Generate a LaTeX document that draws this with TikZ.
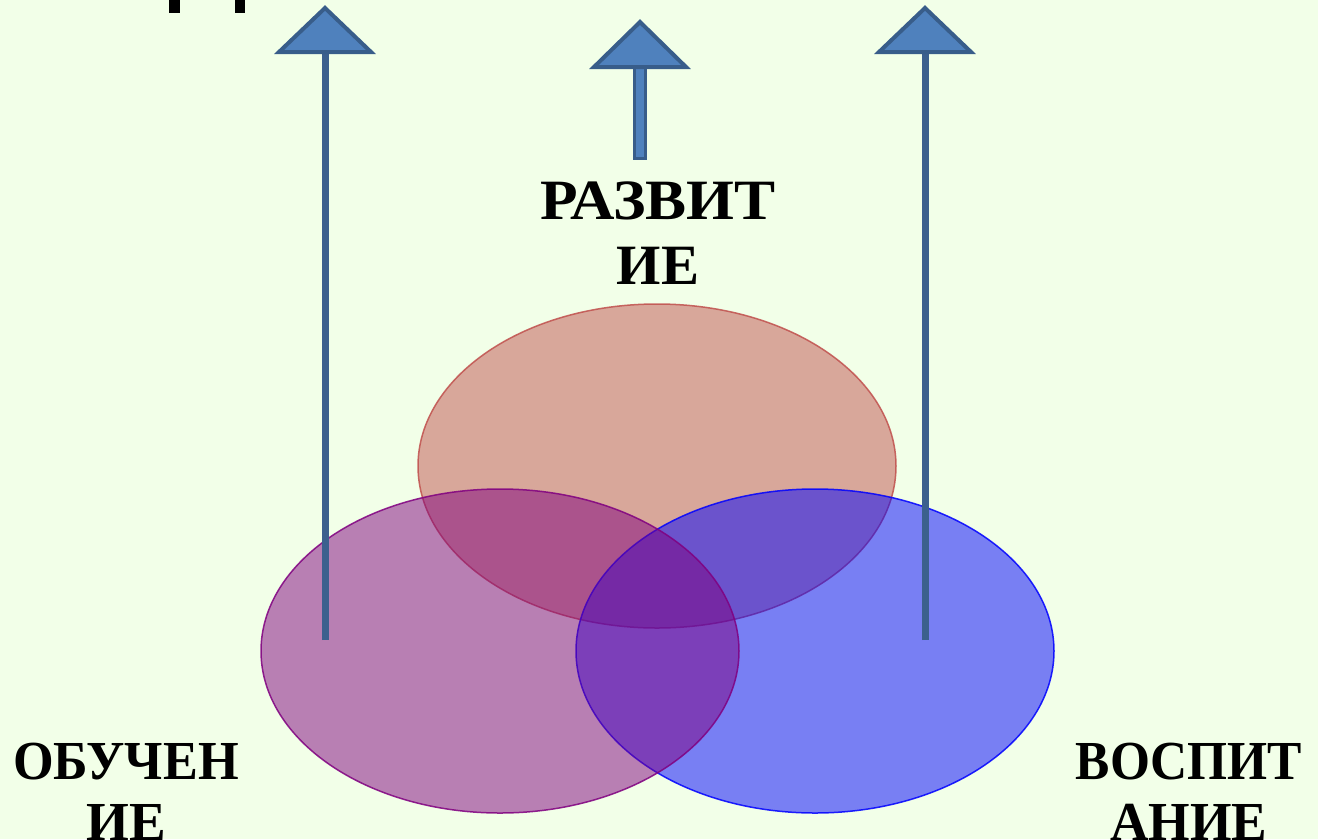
\documentclass[tikz,border=0pt]{standalone}
\usepackage{fontspec}
\setmainfont{Liberation Serif}
\usetikzlibrary{shapes.geometric}
\definecolor{bg}{RGB}{242,255,232}
\definecolor{redc}{RGB}{192,80,77}
\definecolor{purc}{RGB}{128,0,128}
\definecolor{bluc}{RGB}{0,0,255}
\definecolor{arrfill}{RGB}{79,129,189}
\definecolor{arrline}{RGB}{56,93,138}
\definecolor{shaft}{RGB}{60,96,142}
\tikzset{
  circ/.style={ellipse, minimum width=478pt, minimum height=324pt, inner sep=0pt, line width=1.5pt, fill opacity=0.5, draw opacity=0.85},
  lbl/.style={font=\bfseries, align=center, inner sep=0pt, anchor=base},
  head/.style={fill=arrfill, draw=arrline, line width=4pt, line join=miter},
  thinshaft/.style={draw=shaft, line width=7pt},
}
\begin{document}
\begin{tikzpicture}[x=1pt,y=-1pt]
\fill[bg] (0,0) rectangle (1318,839);
\useasboundingbox (0,0) rectangle (1318,839);
% cut-off marks at top left
\fill[black] (169,0) rectangle (180,13);
\fill[black] (235,0) rectangle (245,13);
% ellipses
\node[circ, fill=redc, draw=redc] (razv) at (657,466) {};
\node[circ, fill=bluc, draw=bluc] (vosp) at (815,651) {};
\node[circ, fill=purc, draw=purc] (obuch) at (500,651) {};
% arrows
\coordinate (l0) at (325,640);
\coordinate (l1) at (325,52);
\draw[thinshaft] (l0) -- (l1);
\draw[head] (325,8) -- (371,52) -- (279,52) -- cycle;
\coordinate (r0) at (925,640);
\coordinate (r1) at (925,52);
\draw[thinshaft] (r0) -- (r1);
\draw[head] (925,8) -- (971,52) -- (879,52) -- cycle;
\draw[fill=arrfill, draw=arrline, line width=3pt] (634.5,158) rectangle (645.5,66);
\draw[head] (640,22) -- (686,67) -- (594,67) -- cycle;
% labels
\node[lbl, font=\bfseries\fontsize{57}{65}\selectfont] (t1) at (658,284)
  {\scalebox{1.08}[1]{РАЗВИТ}\\\scalebox{1.0}[1]{ИЕ}};
\node[lbl, font=\bfseries\fontsize{55}{61}\selectfont] (t2) at (126,840)
  {\scalebox{0.95}[1]{ОБУЧЕН}\\\scalebox{1.0}[1]{ИЕ}};
\node[lbl, font=\bfseries\fontsize{55}{61}\selectfont] (t3) at (1189,840)
  {\scalebox{0.935}[1]{ВОСПИТ}\\\scalebox{0.97}[1]{АНИЕ}};
\end{tikzpicture}
\end{document}
